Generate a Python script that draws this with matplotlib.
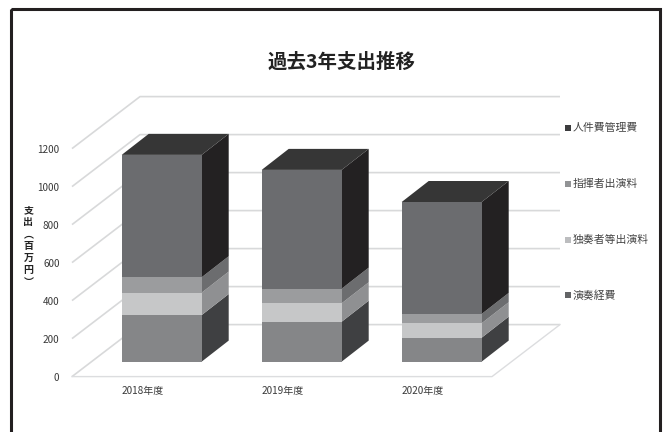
import matplotlib
matplotlib.use('Agg')
import matplotlib.pyplot as plt
from matplotlib.patches import Polygon, Rectangle

plt.rcParams['font.family'] = ['Noto Sans CJK JP', 'DejaVu Sans']

categories = ['2018年度', '2019年度', '2020年度']
series_names = ['演奏経費', '独奏者等出演料', '指揮者出演料', '人件費管理費']
performance = [245, 210, 126]
soloists = [118, 97, 76]
conductor = [81, 77, 49]
personnel = [644, 625, 589]
series = [performance, soloists, conductor, personnel]
y_ticks = [0, 200, 400, 600, 800, 1000, 1200]

front_colors = ['#858688', '#c6c7c8', '#9b9c9e', '#6b6c6f']
side_colors = ['#3f4042', '#8f9092', '#6c6d6f', '#232122']
top_color = '#363636'
legend_colors = ['#636466', '#bcbdbf', '#929395', '#3c3c3e']

W, H = 669, 432
fig = plt.figure(figsize=(W / 100, H / 100), dpi=100, facecolor='white')

# frame
bg = fig.add_axes([0, 0, 1, 1], zorder=0)
bg.set_xlim(0, W); bg.set_ylim(H, 0); bg.axis('off')
bg.add_patch(Rectangle((10.5, 8.5), 649.5, 440, fill=False, ec='#231f20', lw=2.2))

# data axes: x = category index, y = value
px_per_cat = 140.0
px_per_val = 228.0 / 1200
ax_left, ax_right = 72.0, 560.0
ax_bottom, ax_top = 376.6, 96.0
ax = fig.add_axes([ax_left / W, 1 - ax_bottom / H, (ax_right - ax_left) / W, (ax_bottom - ax_top) / H], zorder=1)
ax.set_xlim(-(161.7 - ax_left) / px_per_cat, (ax_right - 161.7) / px_per_cat)
ax.set_ylim(0, (ax_bottom - ax_top) / px_per_val)
ax.patch.set_alpha(0)
for s in ax.spines.values():
    s.set_visible(False)

wall_dx = 68 / px_per_cat
wall_dy = 52 / px_per_val
xmin, xmax = ax.get_xlim()
grid_right = xmax
floor_right = grid_right - wall_dx
for v in y_ticks:
    ax.plot([xmin, xmin + wall_dx, grid_right], [v, v + wall_dy, v + wall_dy],
            color='#d8d9da', lw=1.2, solid_capstyle='butt', zorder=1, clip_on=False)
ax.plot([xmin, floor_right, grid_right], [0, 0, wall_dy], color='#dcdddf', lw=1.0, zorder=1, clip_on=False)

bar_w = 80 / px_per_cat
bar_dx = 27 / px_per_cat
bar_dy = 21 / px_per_val
base = 15 / px_per_val
for i in range(len(categories)):
    xl = i - bar_w / 2
    xr = i + bar_w / 2
    bottom = base
    for j, vals in enumerate(series):
        top = bottom + vals[i]
        ax.add_patch(Polygon([(xr, bottom), (xr + bar_dx, bottom + bar_dy), (xr + bar_dx, top + bar_dy), (xr, top)],
                             closed=True, fc=side_colors[j], ec='none', zorder=3, clip_on=False))
        ax.bar(i, vals[i], width=bar_w, bottom=bottom, color=front_colors[j], linewidth=0, zorder=4)
        bottom = top
    ax.add_patch(Polygon([(xl, bottom), (xr, bottom), (xr + bar_dx, bottom + bar_dy), (xl + bar_dx, bottom + bar_dy)],
                         closed=True, fc=top_color, ec='none', zorder=3, clip_on=False))

label_shift = 19.5 / px_per_cat
ax.set_xticks([i - label_shift for i in range(len(categories))])
ax.set_xticklabels(categories, fontsize=7.2, color='#3a3a3a')
ax.set_yticks(y_ticks)
ax.set_yticklabels([str(v) for v in y_ticks], fontsize=7.2, color='#3a3a3a')
ax.tick_params(length=0, pad=9)
ax.tick_params(axis='x', pad=7)

fig.text(341.5 / W, 1 - 62 / H, '過去3年支出推移', fontsize=14, fontweight='bold', color='#222222', ha='center', va='center')
fig.text(28.5 / W, 1 - 246 / H, '支\n出\n︵\n百\n万\n円\n︶', fontsize=7.2, fontweight='bold', color='#222222',
         ha='center', va='center', linespacing=1.25)

legend_y = [128, 184, 240, 295]
order = [3, 2, 1, 0]
for y, j in zip(legend_y, order):
    bg.add_patch(Rectangle((565, y - 3), 6, 6, fc=legend_colors[j], ec='none'))
    fig.text(573 / W, 1 - y / H, series_names[j], fontsize=7.8, color='#444444', ha='left', va='center')

fig.savefig('out.png', dpi=100)
